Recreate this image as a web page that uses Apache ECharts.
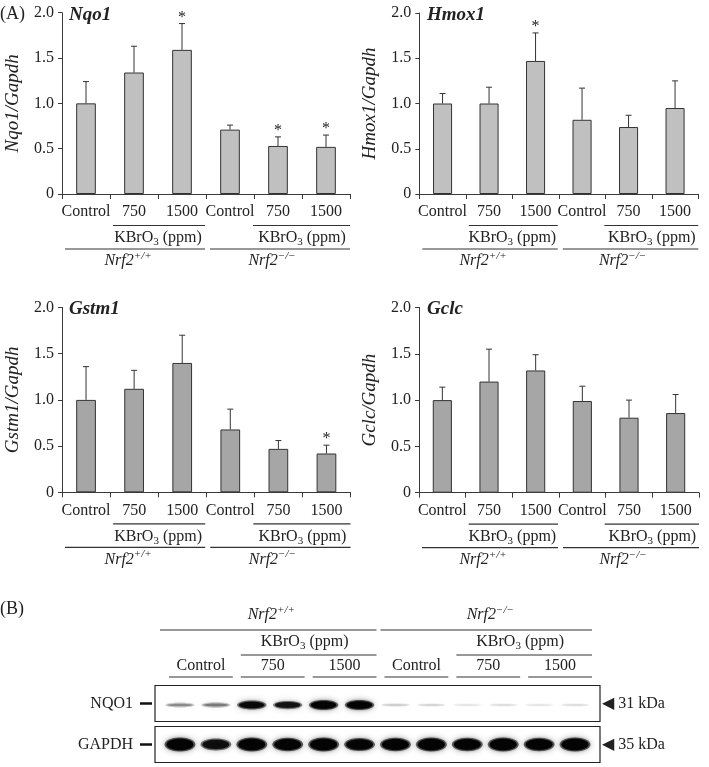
<!DOCTYPE html>
<html><head><meta charset="utf-8">
<script src="https://cdn.jsdelivr.net/npm/echarts@6/dist/echarts.min.js"></script>
<style>html,body{margin:0;padding:0;background:#fff}#c{width:709px;height:767px}</style>
</head><body><div id="c"></div>
<script>
// ---------- data ----------
const categories = ['Control', '750', '1500', 'Control', '750', '1500'];
const yTicks = [0, 0.5, 1.0, 1.5, 2.0];

const nqo1Mean = [1.00, 1.34, 1.59, 0.71, 0.53, 0.52];
const nqo1Sd   = [0.24, 0.29, 0.29, 0.05, 0.10, 0.13];
const nqo1Sig  = [0, 0, 1, 0, 1, 1];

const hmox1Mean = [1.00, 1.00, 1.47, 0.82, 0.74, 0.95];
const hmox1Sd   = [0.11, 0.18, 0.31, 0.35, 0.13, 0.30];
const hmox1Sig  = [0, 0, 1, 0, 0, 0];

const gstm1Mean = [1.00, 1.12, 1.40, 0.68, 0.47, 0.42];
const gstm1Sd   = [0.36, 0.20, 0.30, 0.22, 0.09, 0.09];
const gstm1Sig  = [0, 0, 0, 0, 0, 1];

const gclcMean = [1.00, 1.20, 1.32, 0.99, 0.81, 0.86];
const gclcSd   = [0.14, 0.35, 0.17, 0.16, 0.19, 0.20];
const gclcSig  = [0, 0, 0, 0, 0, 0];

// western blot lanes and band intensities (0..1)
const blotLanes = ['1','2','3','4','5','6','7','8','9','10','11','12'];
const blotRows = ['NQO1', 'GAPDH'];
const blotMarkers = ['\u25C0 31 kDa', '\u25C0 35 kDa'];
const nqo1Band  = [0.30, 0.34, 0.85, 0.75, 1.00, 1.00, 0.12, 0.10, 0.06, 0.08, 0.06, 0.08];
const gapdhBand = [1.00, 0.78, 1.00, 0.95, 1.00, 0.90, 0.95, 1.00, 0.93, 1.00, 0.93, 1.00];
const blotGroupDoses = ['Control', '750', '1500', 'Control', '750', '1500'];

// ---------- layout / style ----------
const SERIF = "'Liberation Serif', 'DejaVu Serif', serif";
const INK = '#222';
const AX = '#3a3a3a';
const panels = [
  {title: 'Nqo1',  yName: 'Nqo1/Gapdh',  mean: nqo1Mean,  sd: nqo1Sd,  sig: nqo1Sig,  color: '#c0c0c0', grid: {left: 62, top: 12.7, width: 288, height: 181.3}, tx: 69, ty: 15},
  {title: 'Hmox1', yName: 'Hmox1/Gapdh', mean: hmox1Mean, sd: hmox1Sd, sig: hmox1Sig, color: '#c0c0c0', grid: {left: 419.3, top: 13, width: 279, height: 181}, tx: 427, ty: 15},
  {title: 'Gstm1', yName: 'Gstm1/Gapdh', mean: gstm1Mean, sd: gstm1Sd, sig: gstm1Sig, color: '#a6a6a6', grid: {left: 62, top: 307.5, width: 288.5, height: 184.8}, tx: 69, ty: 309},
  {title: 'Gclc',  yName: 'Gclc/Gapdh',  mean: gclcMean,  sd: gclcSd,  sig: gclcSig,  color: '#a6a6a6', grid: {left: 419, top: 307.5, width: 280, height: 185.2}, tx: 427, ty: 309}
];

const grids = [], xAxes = [], yAxes = [], series = [];
panels.forEach((p, k) => {
  grids.push(Object.assign({containLabel: false}, p.grid));
  xAxes.push({
    type: 'category', gridIndex: k, data: categories,
    axisLine: {lineStyle: {color: AX, width: 1}},
    axisTick: {show: true, length: 5, interval: 0, lineStyle: {color: AX}},
    axisLabel: {interval: 0, hideOverlap: false, margin: 10, fontFamily: SERIF, fontSize: 16, color: INK},
    splitLine: {show: false}
  });
  yAxes.push({
    type: 'value', gridIndex: k, min: yTicks[0], max: yTicks[yTicks.length - 1], interval: 0.5,
    axisLine: {show: true, lineStyle: {color: AX, width: 1}},
    axisTick: {show: true, length: 4, lineStyle: {color: AX}},
    splitLine: {show: false},
    axisLabel: {formatter: v => v === 0 ? '0' : v.toFixed(1), margin: 8, fontFamily: SERIF, fontSize: 16, color: INK},
    name: p.yName, nameLocation: 'middle', nameGap: 40, nameRotate: 90,
    nameTextStyle: {fontFamily: SERIF, fontStyle: 'italic', fontSize: 19, color: INK}
  });
  series.push({
    type: 'bar', xAxisIndex: k, yAxisIndex: k, data: p.mean, barWidth: '41%',
    itemStyle: {color: p.color, borderColor: '#333', borderWidth: 1}, z: 2
  });
  series.push({
    type: 'custom', xAxisIndex: k, yAxisIndex: k, z: 3,
    data: p.mean.map((m, i) => [i, m, p.sd[i], p.sig[i]]),
    encode: {x: 0, y: 1},
    renderItem: (params, api) => {
      const i = api.value(0), m = api.value(1), s = api.value(2), g = api.value(3);
      const p0 = api.coord([i, m]), p1 = api.coord([i, m + s]);
      const ch = [
        {type: 'line', shape: {x1: p0[0], y1: p0[1], x2: p1[0], y2: p1[1]}, style: {stroke: '#333', lineWidth: 1}},
        {type: 'line', shape: {x1: p1[0] - 3, y1: p1[1], x2: p1[0] + 3, y2: p1[1]}, style: {stroke: '#333', lineWidth: 1}}
      ];
      if (g) ch.push({type: 'text', x: p1[0], y: p1[1] + 2,
        style: {text: '*', fontSize: 16, fontFamily: SERIF, fill: INK, align: 'center', verticalAlign: 'bottom'}});
      return {type: 'group', children: ch};
    }
  });
});

// Blot grid (index 4)
grids.push({left: 162, width: 431, top: 683, height: 82});
xAxes.push({type: 'category', gridIndex: 4, data: blotLanes, show: false});
yAxes.push({
  type: 'category', gridIndex: 4, data: blotRows, inverse: true, offset: 10,
  axisLine: {show: false}, splitLine: {show: false},
  axisTick: {show: true, alignWithLabel: true, length: 12, lineStyle: {color: '#111', width: 2.5}},
  axisLabel: {margin: 19, fontFamily: SERIF, fontSize: 16, color: INK}
});
yAxes.push({
  type: 'category', gridIndex: 4, data: blotMarkers, inverse: true, position: 'right', offset: 7,
  axisLine: {show: false}, axisTick: {show: false}, splitLine: {show: false},
  axisLabel: {margin: 2, fontFamily: SERIF, fontSize: 16, color: INK, align: 'left'}
});
// membrane frames
series.push({
  type: 'custom', xAxisIndex: 4, yAxisIndex: 4, z: 1,
  data: blotRows.map((r, i) => [0, i]), encode: {x: 0, y: 1},
  renderItem: (params, api) => {
    const c = api.coord([0, api.value(1)]);
    const cs = params.coordSys;
    return {type: 'rect', shape: {x: cs.x - 7, y: c[1] - 18, width: cs.width + 14, height: 36},
      style: {fill: '#fff', stroke: '#222', lineWidth: 1.2}};
  }
});
// bands
const bandData = [];
nqo1Band.forEach((v, i) => bandData.push([i, 0, v]));
gapdhBand.forEach((v, i) => bandData.push([i, 1, v]));
series.push({
  type: 'custom', xAxisIndex: 4, yAxisIndex: 4, z: 2, data: bandData, encode: {x: 0, y: 1},
  renderItem: (params, api) => {
    const lane = api.value(0), row = api.value(1), v = api.value(2);
    const c = api.coord([lane, row]);
    const w = api.size([1, 0])[0] * (row === 0 ? 0.82 : 0.86);
    const h = row === 0 ? 3 + 7 * v : 4 + 10 * v;
    const yc = c[1] + (row === 0 ? 1.5 : 0);
    const a = Math.min(1, v * 1.05);
    return {type: 'group', children: [
      {type: 'ellipse', shape: {cx: c[0], cy: yc, rx: w / 2, ry: h / 2},
        style: {fill: 'rgba(6,6,6,' + (a * 0.55) + ')', shadowBlur: 6, shadowColor: 'rgba(0,0,0,' + (a * 0.6) + ')'}},
      {type: 'ellipse', shape: {cx: c[0], cy: yc, rx: w / 2 - 2, ry: Math.max(1, h / 2 - 1.2)},
        style: {fill: 'rgba(4,4,4,' + a + ')', shadowBlur: 3, shadowColor: 'rgba(0,0,0,' + (a * 0.8) + ')'}}
    ]};
  }
});

const chart = echarts.init(document.getElementById('c'), null, {renderer: 'canvas'});
chart.setOption({animation: false, backgroundColor: '#fff', grid: grids, xAxis: xAxes, yAxis: yAxes, series: series});

// ---------- annotations derived from axes ----------
const G = [];
const txt = (x, y, text, extra) => G.push(Object.assign({type: 'text', x: x, y: y,
  style: Object.assign({text: text, fontFamily: SERIF, fontSize: 16, fill: INK, align: 'center', verticalAlign: 'middle'}, extra || {})}));
const hline = (x1, x2, y) => G.push({type: 'line', shape: {x1: x1, y1: y, x2: x2, y2: y}, style: {stroke: '#333', lineWidth: 1.2}});
const kbroRich = {
  text: 'KBrO{s|3} (ppm)',
  rich: {s: {fontFamily: SERIF, fontSize: 11, fill: INK, padding: [9, 0, 0, 0]}}
};
const nrfRich = sup => ({
  text: '{i|Nrf2}{u|' + sup + '}',
  rich: {
    i: {fontFamily: SERIF, fontSize: 16, fontStyle: 'italic', fill: INK},
    u: {fontFamily: SERIF, fontSize: 11, fontStyle: 'italic', fill: INK, padding: [0, 0, 10, 0]}
  }
});

panels.forEach((p, k) => {
  const cx = i => chart.convertToPixel({xAxisIndex: k}, i);
  const y0 = chart.convertToPixel({yAxisIndex: k}, 0);
  const bw = cx(1) - cx(0);
  const b = j => cx(0) - bw / 2 + j * bw;
  hline(b(1) + 3, b(3) - 1, y0 + 31.5);
  hline(b(4) - 1, b(6), y0 + 31.5);
  hline(b(0) + 3, b(3) - 1, y0 + 55);
  hline(b(3) + 4, b(6), y0 + 55);
  txt((b(1) + b(3)) / 2, y0 + 44, '', kbroRich);
  txt((b(4) + b(6)) / 2, y0 + 44, '', kbroRich);
  txt((b(0) + b(3)) / 2 - 6, y0 + 67, '', nrfRich('+/+'));
  txt((b(3) + b(6)) / 2 - 6, y0 + 67, '', nrfRich('\u2212/\u2212'));
  txt(p.tx, p.ty, p.title, {align: 'left', fontStyle: 'italic', fontWeight: 'bold', fontSize: 19});
});
txt(0, 14, '(A)', {align: 'left', fontSize: 18});
txt(0, 609, '(B)', {align: 'left', fontSize: 18});

// blot header
(function () {
  const cl = i => chart.convertToPixel({xAxisIndex: 4}, i);
  const lw = cl(1) - cl(0);
  const top = chart.convertToPixel({yAxisIndex: 4}, 0) - 20.5;
  const L = i => cl(i) - lw / 2 + 7;
  const R = i => cl(i) + lw / 2 - 1;
  for (let g = 0; g < 6; g++) {
    const a = L(2 * g), z = R(2 * g + 1);
    hline(a, z, top - 6);
    txt((a + z) / 2, top - 17, blotGroupDoses[g]);
  }
  hline(L(2), R(5), top - 28);
  hline(L(8), R(11), top - 28);
  txt((L(2) + R(5)) / 2 - 4, top - 41, '', kbroRich);
  txt((L(8) + R(11)) / 2 - 4, top - 41, '', kbroRich);
  hline(cl(0) - lw / 2 - 2, R(5), top - 53);
  hline(L(6) - 4, R(11), top - 53);
  txt((cl(0) - lw / 2 + R(5)) / 2 + 2, top - 68, '', nrfRich('+/+'));
  txt((L(6) + R(11)) / 2 + 2, top - 68, '', nrfRich('\u2212/\u2212'));
})();

chart.setOption({graphic: G});
</script></body></html>
